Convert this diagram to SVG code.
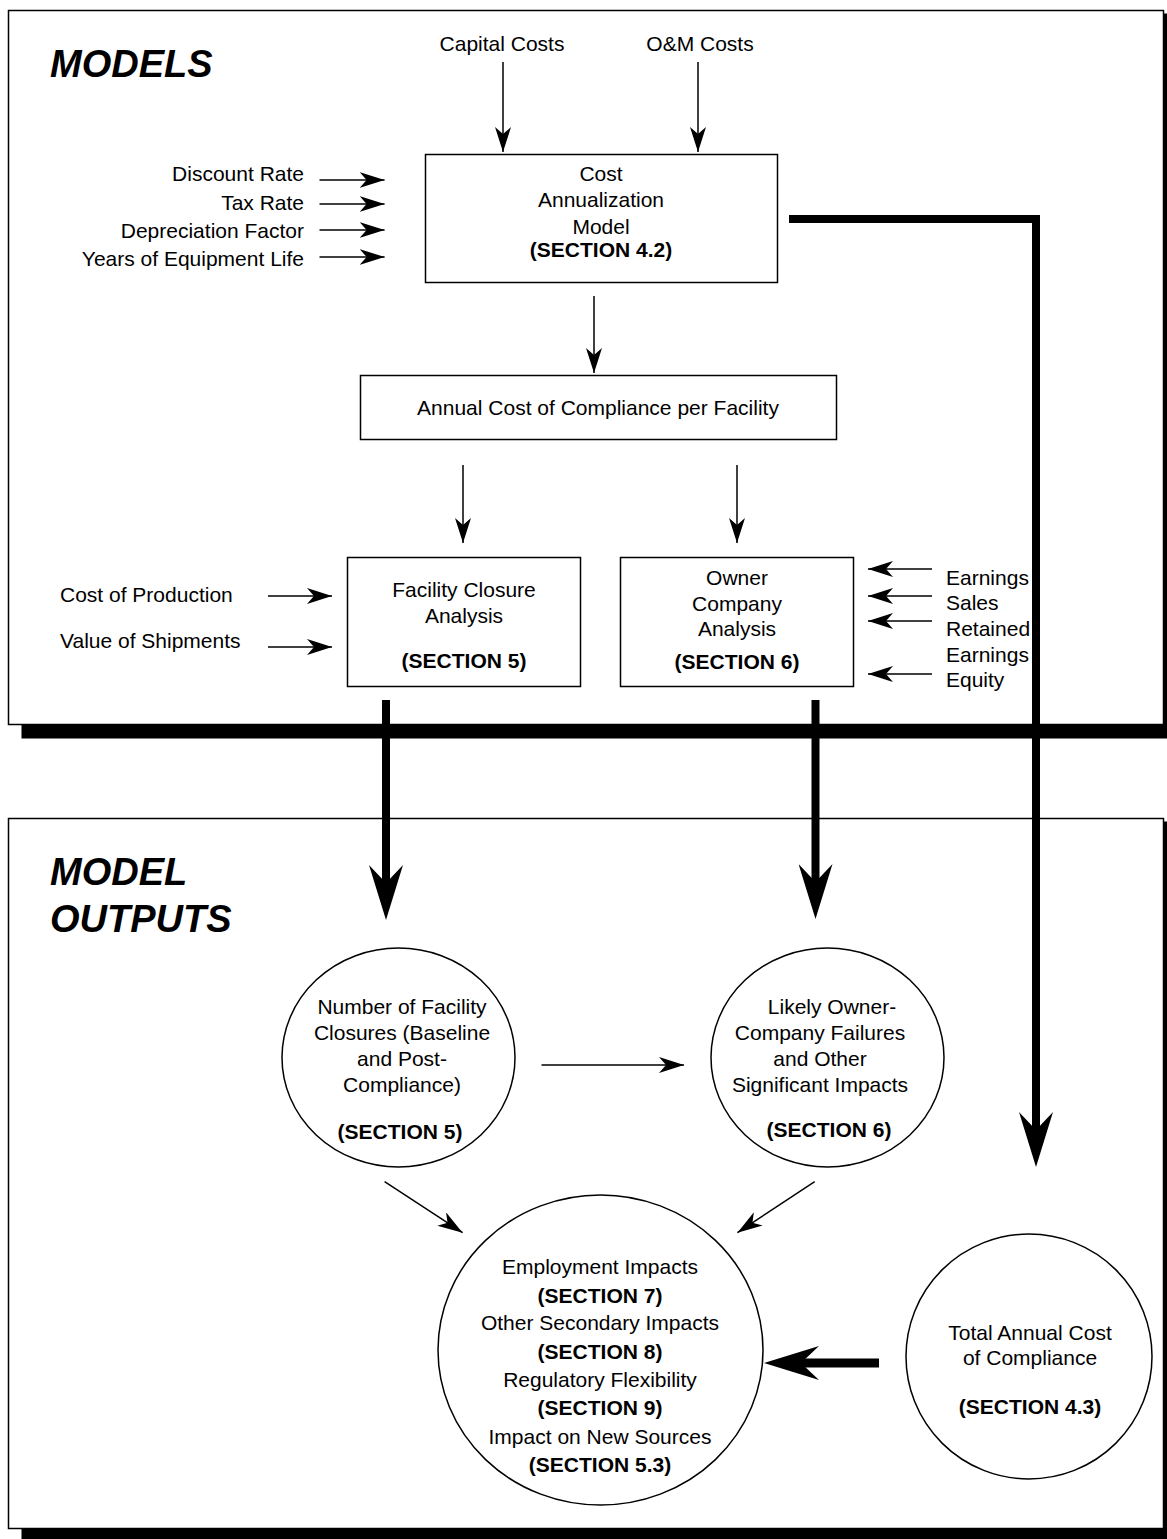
<svg xmlns="http://www.w3.org/2000/svg" width="1167" height="1539" viewBox="0 0 1167 1539">
<style>
text{font-family:"Liberation Sans",Arial,sans-serif;font-size:21px;fill:#000}
.b{font-weight:bold}
.t{font-weight:bold;font-style:italic;font-size:38px}
.m{text-anchor:middle}
.e{text-anchor:end}
.box{fill:#fff;stroke:#000;stroke-width:1.5}
.frame{fill:#fff;stroke:#000;stroke-width:1.5}
.shadow{fill:#000}
.thin{fill:none;stroke:#000;stroke-width:1.5;marker-end:url(#ah)}
.thick{fill:none;stroke:#000;stroke-width:8;stroke-linejoin:miter;marker-end:url(#bh)}
</style>
<defs>
<marker id="ah" viewBox="0 0 25 16" refX="25" refY="8" markerWidth="25" markerHeight="16" markerUnits="userSpaceOnUse" orient="auto">
<path d="M0,0 L25,8 L0,16 L7,8 Z" fill="#000"/>
</marker>
<marker id="bh" viewBox="0 0 55 34" refX="18" refY="17" markerWidth="55" markerHeight="34" markerUnits="userSpaceOnUse" orient="auto">
<path d="M0,0 L55,17 L0,34 L18,17 Z" fill="#000"/>
</marker>
</defs>

<g id="models-frame">
<rect class="shadow" x="21.5" y="13.5" width="1155" height="725"/>
<rect class="frame" x="8.5" y="10.5" width="1155" height="714"/>
<text class="t" x="50" y="77">MODELS</text>
</g>
<g id="outputs-frame">
<rect class="shadow" x="21.5" y="821.5" width="1155" height="721"/>
<rect class="frame" x="8.5" y="818.5" width="1155" height="710"/>
<text class="t" x="50" y="885">MODEL</text>
<text class="t" x="50" y="932">OUTPUTS</text>
</g>

<g id="inputs-top">
<text class="m" x="502" y="51">Capital Costs</text>
<text class="m" x="700" y="51">O&amp;M Costs</text>
</g>
<g id="inputs-left">
<text class="e" x="304" y="181">Discount Rate</text>
<text class="e" x="304" y="210">Tax Rate</text>
<text class="e" x="304" y="238">Depreciation Factor</text>
<text class="e" x="304" y="266">Years of Equipment Life</text>
</g>
<g id="cost-annualization">
<rect class="box" x="425.5" y="154.5" width="352" height="128"/>
<text class="m" x="601" y="181">Cost</text>
<text class="m" x="601" y="207">Annualization</text>
<text class="m" x="601" y="234">Model</text>
<text class="m b" x="601" y="257">(SECTION 4.2)</text>
</g>
<g id="annual-cost">
<rect class="box" x="360.5" y="375.5" width="476" height="64"/>
<text class="m" x="598" y="415">Annual Cost of Compliance per Facility</text>
</g>
<g id="inputs-facility">
<text x="60" y="602">Cost of Production</text>
<text x="60" y="648">Value of Shipments</text>
</g>
<g id="facility-closure">
<rect class="box" x="347.5" y="557.5" width="233" height="129"/>
<text class="m" x="464" y="597">Facility Closure</text>
<text class="m" x="464" y="623">Analysis</text>
<text class="m b" x="464" y="668">(SECTION 5)</text>
</g>
<g id="owner-company">
<rect class="box" x="620.5" y="557.5" width="233" height="129"/>
<text class="m" x="737" y="585">Owner</text>
<text class="m" x="737" y="611">Company</text>
<text class="m" x="737" y="636">Analysis</text>
<text class="m b" x="737" y="669">(SECTION 6)</text>
</g>
<g id="inputs-owner">
<text x="946" y="585">Earnings</text>
<text x="946" y="610">Sales</text>
<text x="946" y="636">Retained</text>
<text x="946" y="662">Earnings</text>
<text x="946" y="687">Equity</text>
</g>

<g id="closures">
<ellipse class="box" cx="398.5" cy="1057.5" rx="116.5" ry="109.5"/>
<text class="m" x="402" y="1014">Number of Facility</text>
<text class="m" x="402" y="1040">Closures (Baseline</text>
<text class="m" x="402" y="1066">and Post-</text>
<text class="m" x="402" y="1092">Compliance)</text>
<text class="m b" x="400" y="1139">(SECTION 5)</text>
</g>
<g id="failures">
<ellipse class="box" cx="827.5" cy="1057.5" rx="116.5" ry="109.5"/>
<text class="m" x="832" y="1014">Likely Owner-</text>
<text class="m" x="820" y="1040">Company Failures</text>
<text class="m" x="820" y="1066">and Other</text>
<text class="m" x="820" y="1092">Significant Impacts</text>
<text class="m b" x="829" y="1137">(SECTION 6)</text>
</g>
<g id="impacts">
<ellipse class="box" cx="600.5" cy="1350" rx="162.5" ry="155"/>
<text class="m" x="600" y="1274">Employment Impacts</text>
<text class="m b" x="600" y="1303">(SECTION 7)</text>
<text class="m" x="600" y="1330">Other Secondary Impacts</text>
<text class="m b" x="600" y="1359">(SECTION 8)</text>
<text class="m" x="600" y="1387">Regulatory Flexibility</text>
<text class="m b" x="600" y="1415">(SECTION 9)</text>
<text class="m" x="600" y="1444">Impact on New Sources</text>
<text class="m b" x="600" y="1472">(SECTION 5.3)</text>
</g>
<g id="total-cost">
<ellipse class="box" cx="1029" cy="1356.5" rx="123" ry="122.5"/>
<text class="m" x="1030" y="1340">Total Annual Cost</text>
<text class="m" x="1030" y="1365">of Compliance</text>
<text class="m b" x="1030" y="1414">(SECTION 4.3)</text>
</g>

<g id="connectors">
<line class="thin" x1="503" y1="62" x2="503" y2="152"/>
<line class="thin" x1="698" y1="62" x2="698" y2="152"/>
<line class="thin" x1="319.5" y1="180" x2="384.6" y2="180"/>
<line class="thin" x1="319.5" y1="204" x2="384.6" y2="204"/>
<line class="thin" x1="319.5" y1="230" x2="384.6" y2="230"/>
<line class="thin" x1="319.5" y1="257" x2="384.6" y2="257"/>
<line class="thin" x1="594" y1="296" x2="594" y2="373"/>
<line class="thin" x1="463" y1="465" x2="463" y2="543"/>
<line class="thin" x1="737" y1="465" x2="737" y2="543"/>
<line class="thin" x1="268" y1="596" x2="332" y2="596"/>
<line class="thin" x1="268" y1="647" x2="332" y2="647"/>
<line class="thin" x1="932" y1="569" x2="868" y2="569"/>
<line class="thin" x1="932" y1="596" x2="868" y2="596"/>
<line class="thin" x1="932" y1="621" x2="868" y2="621"/>
<line class="thin" x1="932" y1="674" x2="868" y2="674"/>
<line class="thin" x1="541.5" y1="1065" x2="684" y2="1065"/>
<line class="thin" x1="384.6" y1="1181.7" x2="462.6" y2="1232.7"/>
<line class="thin" x1="814.7" y1="1181.7" x2="737.4" y2="1232.7"/>
<line class="thick" x1="386" y1="700" x2="386" y2="883"/>
<line class="thick" x1="815.5" y1="700" x2="815.5" y2="882"/>
<path class="thick" d="M789,219 H1036 V1130"/>
<line class="thick" style="stroke-width:9" x1="879" y1="1363" x2="801" y2="1363"/>
</g>
</svg>
